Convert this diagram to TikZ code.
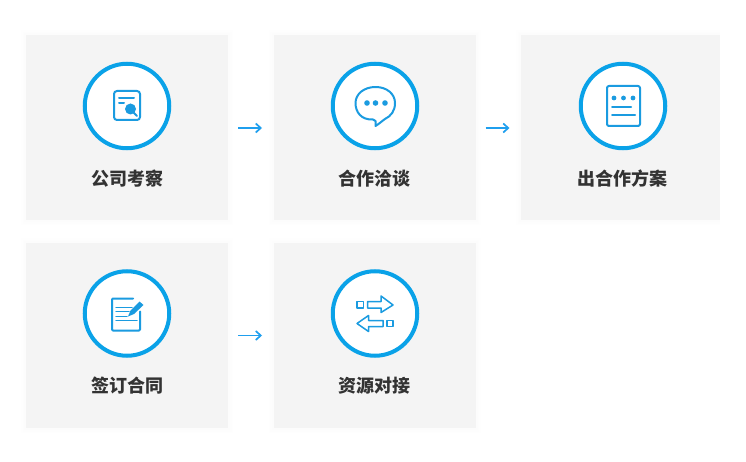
\documentclass[tikz,border=0pt]{standalone}
\usepackage{fontspec}
\usepackage{tikz}
\usetikzlibrary{positioning}
\usetikzlibrary{arrows.meta}
\newfontfamily\cjk{Noto Sans CJK SC}
\definecolor{ringblue}{HTML}{0AA2E8}
\definecolor{iconblue}{HTML}{1A9BE0}
\definecolor{linkblue}{HTML}{1F9FEE}
\definecolor{cardgrey}{HTML}{F4F4F4}
\definecolor{labelgrey}{HTML}{333333}
\tikzset{
	card/.style={fill=cardgrey, minimum width=202pt, minimum height=185pt, inner sep=0pt, outer sep=0pt,
		preaction={draw=black, draw opacity=0.004, line width=10pt},
		preaction={draw=black, draw opacity=0.004, line width=7pt},
		preaction={draw=black, draw opacity=0.004, line width=4pt}},
	ring/.style={circle, draw=ringblue, line width=4pt, fill=white, minimum size=84.5pt, inner sep=0pt},
	title/.style={font=\cjk\bfseries\fontsize{18pt}{18pt}\selectfont, text=labelgrey, inner sep=0pt},
	link/.style={draw=linkblue, line width=1.7pt, -{Straight Barb[length=5pt,width=9pt]}, shorten >=11.5pt, shorten <=10pt},
	icon/.style={draw=iconblue, line width=2pt, line cap=round, line join=round},
	iconthin/.style={icon, line width=1.5pt},
	icondot/.style={fill=iconblue, draw=none}
}
\begin{document}
\begin{tikzpicture}[x=1pt,y=-1pt]
	\useasboundingbox (0,0) rectangle (746,462);

	\begin{scope}
		\clip (0,0) rectangle (720,462);
		\node [card] at (127,128) (cardA) {};
		\node [card, right=45.5pt of cardA] (cardB) {};
		\node [card, right=45.5pt of cardB, minimum width=199pt] (cardC) {};
		\node [card, below=22.5pt of cardA] (cardD) {};
		\node [card, right=45.5pt of cardD] (cardE) {};
	\end{scope}

	\node [ring, yshift=22pt] at (cardA) (ringA) {};
	\node [ring, yshift=22pt, xshift=0.5pt] at (cardB) (ringB) {};
	\node [ring, yshift=22pt, xshift=2.5pt] at (cardC) (ringC) {};
	\node [ring, yshift=22pt] at (cardD) (ringD) {};
	\node [ring, yshift=22pt, xshift=0.5pt] at (cardE) (ringE) {};

	\node [title, yshift=-51pt] at (cardA) (titleA) {公司考察};
	\node [title, yshift=-51pt] at (cardB) (titleB) {合作洽谈};
	\node [title, yshift=-51pt, xshift=2pt] at (cardC) (titleC) {出合作方案};
	\node [title, yshift=-50pt] at (cardD) (titleD) {签订合同};
	\node [title, yshift=-50pt] at (cardE) (titleE) {资源对接};

	\draw [link] (cardA) -- (cardB);
	\draw [link] (cardB) -- (cardC);
	\draw [link] (cardD) -- (cardE);

	% icon in ringA
	\begin{scope}[shift={(ringA)}]
		\draw [icon, rounded corners=3pt] (-13,-15) rectangle (13,14);
		\draw [icon] (-8,-8) -- (7,-8);
		\draw [icon] (-8,-3) -- (-3,-3);
		\draw [icon] (6,6) -- (10,10);
		\fill [icondot] (3.5,3) circle (5.5);
	\end{scope}

	% icon in ringB
	\begin{scope}[shift={(ringB)}]
		\draw [icon] (-2,13.5) .. controls (-14,14) and (-19.5,6) .. (-19.5,-3)
			.. controls (-19.5,-12) and (-11,-19) .. (0.5,-19)
			.. controls (12,-19) and (20,-12) .. (20,-3)
			.. controls (20,5) and (16,10) .. (10,13)
			.. controls (7,15) and (4,18) .. (0.5,20)
			-- (0.5,15) -- cycle;
		\fill [icondot] (-8,-3) circle (2.8);
		\fill [icondot] (0.5,-3) circle (2.8);
		\fill [icondot] (10,-3) circle (2.8);
	\end{scope}

	% icon in ringC
	\begin{scope}[shift={(ringC)}]
		\draw [icon, rounded corners=2pt] (-16,-20) rectangle (17,20);
		\fill [icondot] (-9,-8) circle (2.4);
		\fill [icondot] (0.5,-8) circle (2.4);
		\fill [icondot] (10,-8) circle (2.4);
		\draw [icon] (-11,1) -- (8,1);
		\draw [icon] (-11,9) -- (12,9);
	\end{scope}

	% icon in ringD
	\begin{scope}[shift={(ringD)}]
		\draw [icon, rounded corners=1pt] (6,-15) -- (-15,-15) -- (-15,17) -- (13,17) -- (13,-2);
		\draw [iconthin] (-11,-6) -- (5,-6);
		\draw [iconthin] (-11,-2) -- (2,-2);
		\draw [iconthin] (-11,3) -- (0,3);
		\draw [iconthin] (-11,7) -- (10,7);
		\fill [icondot] (1,3) -- (3.5,-3) -- (12.5,-12) -- (16.5,-8.5) -- (7,0.5) -- cycle;
	\end{scope}

	% icon in ringE
	\begin{scope}[shift={(ringE)}]
		\draw [iconthin] (-7.5,-12) -- (6,-12) -- (6,-17.5) -- (18,-8.5) -- (6,-1) -- (6,-5.5) -- (-7.5,-5.5) -- cycle;
		\draw [iconthin] (-18,-12) rectangle (-11.5,-5.5);
		\draw [iconthin] (8,7) -- (-6.5,7) -- (-6.5,2) -- (-18,10) -- (-6.5,18) -- (-6.5,13) -- (8,13) -- cycle;
		\draw [iconthin] (12,7) rectangle (18,13);
	\end{scope}
\end{tikzpicture}
\end{document}
